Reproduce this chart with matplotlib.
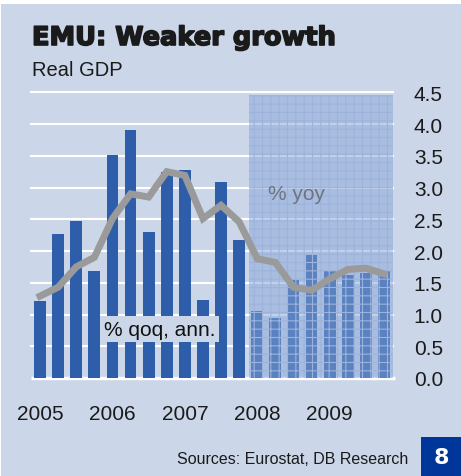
import matplotlib
matplotlib.use("Agg")
import matplotlib.pyplot as plt
import matplotlib.patheffects as pe
from matplotlib.patches import Rectangle
import numpy as np

plt.rcParams['font.family'] = ['Liberation Sans', 'DejaVu Sans']
plt.rcParams['hatch.linewidth'] = 0.8

# quarterly data 2005Q1 - 2009Q4
qoq_ann = [1.22, 2.27, 2.48, 1.68, 3.51, 3.91, 2.30, 3.25, 3.27, 1.23,
           3.08, 2.18, 1.06, 0.95, 1.55, 1.94, 1.69, 1.63, 1.65, 1.68]
yoy = [1.29, 1.43, 1.75, 1.90, 2.51, 2.90, 2.85, 3.25, 3.19, 2.51,
       2.72, 2.46, 1.88, 1.82, 1.43, 1.38, 1.56, 1.71, 1.73, 1.64]
years = ['2005', '2006', '2007', '2008', '2009']
forecast_start = 11.55  # between 2007Q4 and 2008Q1

bg = '#cbd7e9'
bar_col = '#2e5ea9'

fig = plt.figure(figsize=(4.61, 4.77), dpi=100, facecolor='white')
fig.patches.append(Rectangle((1 / 461, 0), 1, 472 / 477, transform=fig.transFigure,
                             facecolor=bg, edgecolor='none', zorder=-10))

ax = fig.add_axes([31 / 461, 98 / 477, 362 / 461, 285.7 / 477])
ax.set_facecolor('none')

x = np.arange(len(qoq_ann))
ax.set_xlim(-0.5, 19.5)
ax.set_ylim(0, 4.5)

yt = np.arange(0, 4.51, 0.5)
for v in yt[1:]:
    ax.axhline(v, color='white', lw=1.5, zorder=1, clip_on=False)
ax.plot([-0.5, 19.62], [0, 0], color='white', lw=2.4, zorder=1, clip_on=False,
        solid_capstyle='butt')

ax.bar(x, qoq_ann, width=0.65, color=bar_col, zorder=2)

# forecast shading
ax.axvspan(forecast_start, 19.5, ymin=0, ymax=4.46 / 4.5, facecolor='#87a4d8',
           alpha=0.5, edgecolor='none', zorder=3)
ax.axvspan(forecast_start, 19.5, ymin=0, ymax=4.46 / 4.5, facecolor='none',
           edgecolor='#9db3db', hatch='++', lw=0, zorder=3.5)

ax.plot(x, yoy, color='#9a9a9a', lw=5, zorder=4, solid_joinstyle='miter')

ax.text(6.6, 0.77, '% qoq, ann.', fontsize=15, color='#111111', ha='center', va='center',
        zorder=5, bbox=dict(facecolor=bg, edgecolor='none', pad=2.5))
ax.text(12.6, 2.9, '% yoy', fontsize=15, color='#6e7480', ha='left', va='center', zorder=5)

for s in ax.spines.values():
    s.set_visible(False)

ax.yaxis.tick_right()
ax.set_yticks(yt)
ax.set_yticklabels([f'{v:.1f}' for v in yt])
ax.tick_params(axis='y', length=0, pad=15, labelsize=15, labelcolor='#1a1a1a')
ax.set_xticks([0, 4, 8, 12, 16])
ax.set_xticklabels(years)
ax.tick_params(axis='x', length=0, pad=19, labelsize=15, labelcolor='#1a1a1a')

fig.text(32 / 461, 1 - 46 / 477, 'EMU: Weaker growth', fontsize=18.5, fontweight='bold',
         family='DejaVu Sans', color='#1a1a1a', va='baseline', ha='left',
         path_effects=[pe.withStroke(linewidth=1.2, foreground='#1a1a1a')])
fig.text(32 / 461, 1 - 76 / 477, 'Real GDP', fontsize=14.5, color='#1a1a1a',
         va='baseline', ha='left')

fig.text(408 / 461, 1 - 464 / 477, 'Sources: Eurostat, DB Research', fontsize=11.5,
         color='#1a1a1a', ha='right', va='baseline')
fig.patches.append(Rectangle((421 / 461, 0), 40 / 461, 39 / 477, transform=fig.transFigure,
                             facecolor='#00359a', edgecolor='none', zorder=-5))
fig.text(441 / 461, 1 - 458 / 477, '8', fontsize=16, fontweight='bold', color='white',
         ha='center', va='center', family='DejaVu Sans')

fig.savefig('out.png', dpi=100, facecolor=fig.get_facecolor())
